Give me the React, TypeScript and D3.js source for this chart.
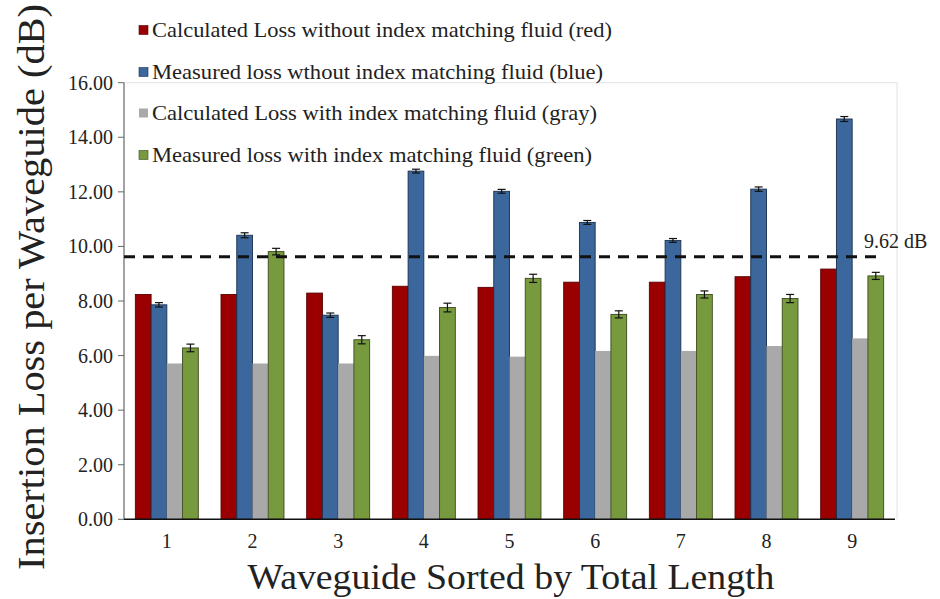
import React from "react";
import * as d3 from "d3";

const categories = ["1", "2", "3", "4", "5", "6", "7", "8", "9"];
const seriesNames = [
  "Calculated Loss without index matching fluid (red)",
  "Measured loss wthout index matching fluid (blue)",
  "Calculated Loss with index matching fluid (gray)",
  "Measured loss with index matching fluid (green)",
];
const calcWithout = [8.24, 8.24, 8.29, 8.54, 8.5, 8.69, 8.69, 8.89, 9.17];
const measWithout = [7.86, 10.41, 7.48, 12.76, 12.02, 10.88, 10.22, 12.1, 14.67];
const calcWith = [5.71, 5.71, 5.71, 5.99, 5.96, 6.17, 6.17, 6.35, 6.63];
const measWith = [6.28, 9.81, 6.58, 7.76, 8.83, 7.51, 8.24, 8.09, 8.92];
const errWithout = [0.08, 0.09, 0.08, 0.07, 0.07, 0.07, 0.07, 0.08, 0.09];
const errWith = [0.14, 0.12, 0.15, 0.16, 0.15, 0.13, 0.13, 0.15, 0.13];
const yTicks = [0, 2, 4, 6, 8, 10, 12, 14, 16];
const thresholdValue = 9.62;
const thresholdLabel = "9.62 dB";

const colors = ["#9a0000", "#3b679d", "#a9a9a9", "#789a3e"];
const strokes = ["#5a0000", "#1a2f4a", "none", "#3a4a1c"];
const fontStyle = { fontFamily: "'Liberation Serif', serif" };

export default function App() {
  const W = 940;
  const H = 599;
  const left = 124;
  const right = 895;
  const top = 82.7;
  const bottom = 519.3;

  const x = d3.scaleBand<string>().domain(categories).range([left, right]).paddingInner(0.265).paddingOuter(0.1325);
  const xi = d3.scaleBand<number>().domain([0, 1, 2, 3]).range([0, x.bandwidth()]).padding(0);
  const y = d3.scaleLinear().domain([0, 16]).range([bottom, top]);

  const series = [calcWithout, measWithout, calcWith, measWith];
  const errs: (number[] | null)[] = [null, errWithout, null, errWith];

  const legendTextLen = [460, 451, 445, 440];
  const legendY = [30, 72, 113, 155];

  return (
    <svg width={W} height={H} style={{ position: "absolute", left: 0, top: 0, background: "#fff" }}>
      <rect x={0} y={0} width={W} height={H} fill="#fff" />
      <line x1={left} x2={right + 2} y1={top} y2={top} stroke="#e2e2e2" strokeWidth={1} />
      <line x1={right + 2} x2={right + 2} y1={top} y2={bottom} stroke="#e2e2e2" strokeWidth={1} />

      {yTicks.map((t) => (
        <g key={t}>
          <line x1={left - 6} x2={left} y1={y(t)} y2={y(t)} stroke="#666" strokeWidth={1} />
          <text x={113} y={y(t)} dy="0.35em" textAnchor="end" style={fontStyle} fontSize={20} fill="#222">
            {t.toFixed(2)}
          </text>
        </g>
      ))}

      {categories.map((c, ci) => (
        <g key={c} transform={`translate(${x(c)},0)`}>
          {series.map((s, si) => {
            const v = s[ci];
            return (
              <rect
                key={si}
                x={xi(si)!}
                y={y(v)}
                width={xi.bandwidth()}
                height={bottom - y(v)}
                fill={colors[si]}
                stroke={strokes[si]}
                strokeWidth={strokes[si] === "none" ? 0 : 0.9}
              />
            );
          })}
          {series.map((s, si) => {
            const e = errs[si];
            if (!e) return null;
            const v = s[ci];
            const cx = xi(si)! + xi.bandwidth() / 2;
            const y1 = y(v + e[ci]);
            const y2 = y(v - e[ci]);
            return (
              <g key={"e" + si} stroke="#111" strokeWidth={1.2}>
                <line x1={cx} x2={cx} y1={y1} y2={y2} />
                <line x1={cx - 4} x2={cx + 4} y1={y1} y2={y1} />
                <line x1={cx - 4} x2={cx + 4} y1={y2} y2={y2} />
              </g>
            );
          })}
        </g>
      ))}

      <line x1={left} x2={left} y1={top} y2={bottom} stroke="#666" strokeWidth={1.2} />
      <line x1={left} x2={right} y1={bottom} y2={bottom} stroke="#111" strokeWidth={1.5} />

      {categories.map((c) => (
        <text key={c} x={x(c)! + x.bandwidth() / 2} y={541} dy="0.35em" textAnchor="middle" style={fontStyle} fontSize={20} fill="#222">
          {c}
        </text>
      ))}

      <line x1={left} x2={878} y1={y(thresholdValue)} y2={y(thresholdValue)} stroke="#111" strokeWidth={3} strokeDasharray="11,8" />
      <text x={864} y={241} dy="0.35em" style={fontStyle} fontSize={20} fill="#222">
        {thresholdLabel}
      </text>

      {seriesNames.map((n, i) => (
        <g key={n}>
          <rect x={139} y={legendY[i] - 4.5} width={9} height={9} fill={colors[i]} stroke={strokes[i] === "none" ? "none" : strokes[i]} strokeWidth={0.6} />
          <text
            x={152}
            y={legendY[i]}
            dy="0.35em"
            style={fontStyle}
            fontSize={21}
            fill="#222"
            textLength={legendTextLen[i]}
            lengthAdjust="spacingAndGlyphs"
          >
            {n}
          </text>
        </g>
      ))}

      <text
        transform={`translate(44,287) rotate(-90)`}
        textAnchor="middle"
        style={fontStyle}
        fontSize={37}
        fill="#222"
        textLength={566}
        lengthAdjust="spacingAndGlyphs"
      >
        Insertion Loss per Waveguide (dB)
      </text>
      <text x={511} y={589} textAnchor="middle" style={fontStyle} fontSize={35} fill="#222" textLength={527} lengthAdjust="spacingAndGlyphs">
        Waveguide Sorted by Total Length
      </text>
    </svg>
  );
}
